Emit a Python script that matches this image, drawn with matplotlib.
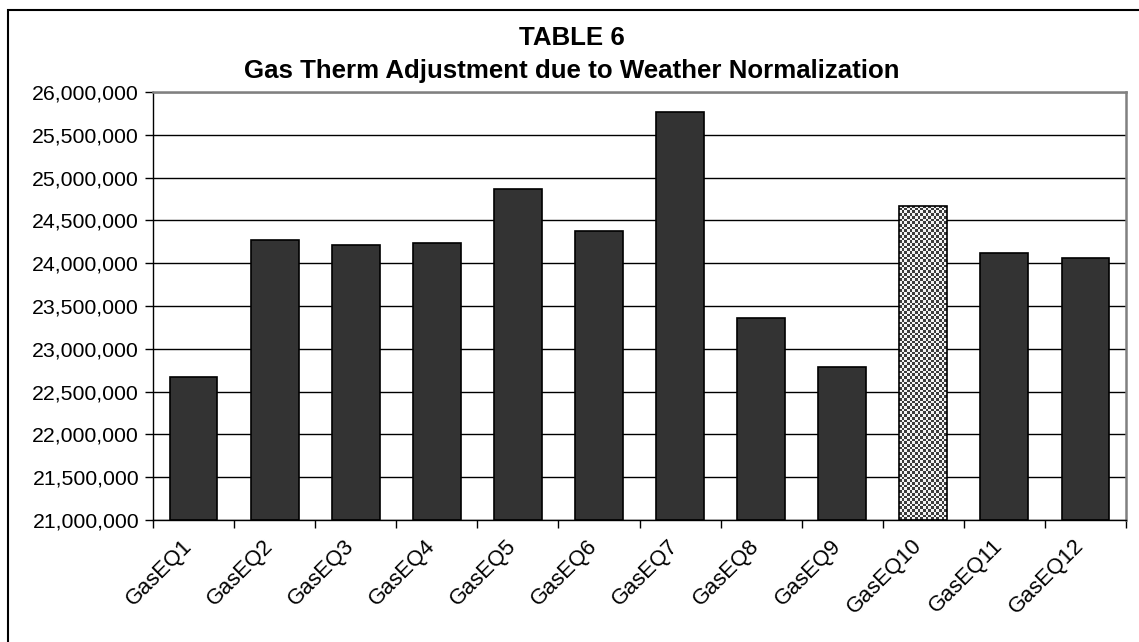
import numpy as np
import matplotlib
matplotlib.use("Agg")
from matplotlib import pyplot as plt
from matplotlib.patches import Rectangle
from matplotlib.ticker import StrMethodFormatter, FixedLocator
from matplotlib.transforms import ScaledTranslation

# Weather-normalized gas therms per equation
categories = ["GasEQ1", "GasEQ2", "GasEQ3", "GasEQ4", "GasEQ5", "GasEQ6",
              "GasEQ7", "GasEQ8", "GasEQ9", "GasEQ10", "GasEQ11", "GasEQ12"]
therms = [22_670_000, 24_276_000, 24_216_000, 24_240_000, 24_867_000,
          24_380_000, 25_772_000, 23_364_000, 22_787_000, 24_670_000,
          24_123_000, 24_065_000]
highlight = "GasEQ10"
y_ticks = np.arange(21_000_000, 26_000_001, 500_000)

plt.rcParams["font.family"] = ["Liberation Sans", "DejaVu Sans"]

W, H, DPI = 1139, 642, 100
fig = plt.figure(figsize=(W / DPI, H / DPI), dpi=DPI)
fig.patch.set_facecolor("white")

# chart border (cut off on the right and bottom)
fig.patches.append(Rectangle((8 / W, -0.1), 1.2, (H - 10) / H + 0.1,
                             transform=fig.transFigure, fill=False,
                             edgecolor="black", lw=1.5))

ax = fig.add_axes([153 / W, 1 - 520 / H, (1126 - 153) / W, (520 - 92) / H])

x = np.arange(len(categories))
bar_w = 0.59
bars = ax.bar(x, [v - y_ticks[0] for v in therms], bottom=y_ticks[0],
              width=bar_w, color="#333333", edgecolor="black", lw=1.2,
              zorder=2)

ax.set_xlim(-0.5, len(categories) - 0.5)
ax.set_ylim(y_ticks[0], y_ticks[-1])

# checkerboard fill for the highlighted bar
i = categories.index(highlight)
hb = bars[i]
hb.set_facecolor("none")
fig.canvas.draw()
(px0, py0), (px1, py1) = ax.transData.transform(
    [(i - bar_w / 2, y_ticks[0]), (i + bar_w / 2, therms[i])])
nx = max(1, int(round((px1 - px0) / 2.7)))
ny = max(1, int(round((py1 - py0) / 2.7)))
checker = (np.add.outer(np.arange(ny), np.arange(nx)) % 2).astype(float)
img = ax.imshow(checker, cmap=matplotlib.colors.ListedColormap(["#f4f4f4", "#3c3c3c"]),
                extent=(i - bar_w / 2, i + bar_w / 2, y_ticks[0], therms[i]),
                aspect="auto", interpolation="nearest", zorder=1.9)
img.set_clip_path(hb)
ax.set_xlim(-0.5, len(categories) - 0.5)
ax.set_ylim(y_ticks[0], y_ticks[-1])

# axes styling
ax.set_yticks(y_ticks)
ax.yaxis.set_major_formatter(StrMethodFormatter("{x:,.0f}"))
ax.yaxis.grid(True, color="black", lw=1)
ax.set_axisbelow(True)
ax.tick_params(axis="y", labelsize=15.3, length=6, width=1, pad=4)

ax.set_xticks(x)
ax.set_xticklabels(categories)
ax.xaxis.set_minor_locator(FixedLocator(np.arange(-0.5, len(categories), 1.0)))
ax.tick_params(axis="x", which="major", length=0, labelsize=15.8, pad=11)
ax.tick_params(axis="x", which="minor", length=6, width=1)
offset = ScaledTranslation(-12 / DPI, 0, fig.dpi_scale_trans)
for lbl in ax.get_xticklabels():
    lbl.set_rotation(45)
    lbl.set_ha("right")
    lbl.set_va("top")
    lbl.set_rotation_mode("anchor")
    lbl.set_transform(lbl.get_transform() + offset)

for side in ("left", "bottom"):
    ax.spines[side].set_color("black")
    ax.spines[side].set_linewidth(1)
for side in ("top", "right"):
    ax.spines[side].set_color("#808080")
    ax.spines[side].set_linewidth(1.8)

# title
fig.text(572 / W, 1 - 45 / H, "TABLE 6", ha="center", va="baseline",
         fontsize=18.6, fontweight="bold")
fig.text(572 / W, 1 - 78 / H, "Gas Therm Adjustment due to Weather Normalization",
         ha="center", va="baseline", fontsize=18.6, fontweight="bold")

fig.savefig("out.png", dpi=DPI)
